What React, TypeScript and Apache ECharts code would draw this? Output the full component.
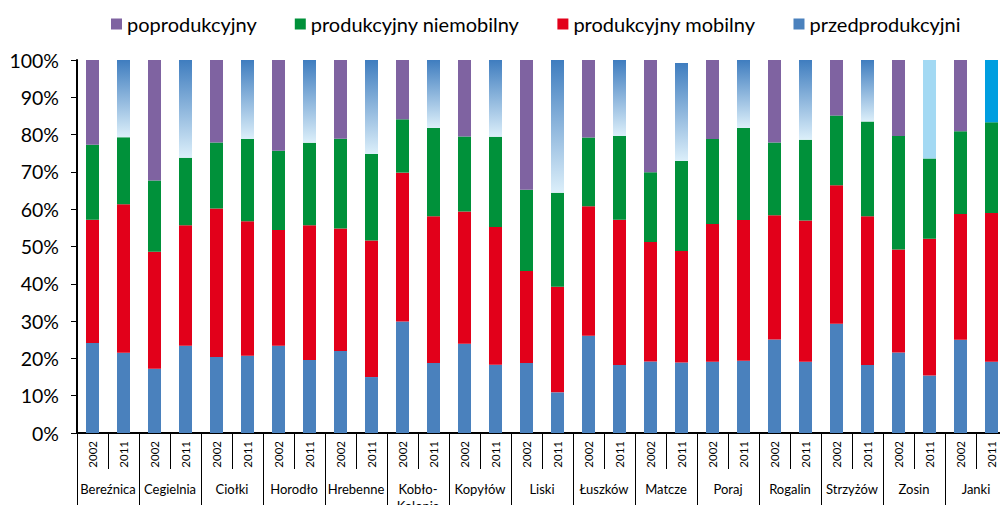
import React, { useEffect, useRef } from "react";
import * as echarts from "echarts";

const villages = ["Bereźnica", "Cegielnia", "Ciołki", "Horodło", "Hrebenne", "Kobło-\nKolonia", "Kopyłów", "Liski", "Łuszków", "Matcze", "Poraj", "Rogalin", "Strzyżów", "Zosin", "Janki"];
const years = ["2002", "2011"];

// Cumulative tops (percent), per bar: blue top, red top, green top, total
const blueTop = [24.1, 21.5, 17.2, 23.4, 20.4, 20.7, 23.4, 19.6, 22.0, 15.0, 29.9, 18.75, 23.9, 18.3, 18.8, 10.9, 26.1, 18.2, 19.2, 18.9, 19.1, 19.4, 25.1, 19.1, 29.3, 18.2, 21.6, 15.4, 25.0, 19.1];
const redTop = [57.2, 61.3, 48.6, 55.7, 60.2, 56.8, 54.4, 55.7, 54.8, 51.6, 69.8, 58.1, 59.4, 55.2, 43.4, 39.2, 60.8, 57.2, 51.2, 48.8, 56.0, 57.1, 58.4, 57.0, 66.4, 58.1, 49.2, 52.1, 58.7, 59.0];
const greenTop = [77.3, 79.3, 67.7, 73.8, 77.9, 78.8, 75.7, 77.8, 78.9, 74.8, 84.1, 81.8, 79.5, 79.4, 65.2, 64.4, 79.2, 79.6, 69.9, 72.9, 78.8, 81.8, 77.9, 78.6, 85.1, 83.5, 79.6, 73.6, 80.9, 83.3];
const totalTop = [100, 100, 100, 100, 100, 100, 100, 100, 100, 100, 100, 100, 100, 100, 100, 100, 100, 100, 100, 99.2, 100, 100, 100, 100, 100, 100, 100, 100, 100, 100];

const przed = blueTop.map((v) => +v.toFixed(2));
const mobilny = redTop.map((v, i) => +(v - blueTop[i]).toFixed(2));
const niemobilny = greenTop.map((v, i) => +(v - redTop[i]).toFixed(2));
const poprod = totalTop.map((v, i) => +(v - greenTop[i]).toFixed(2));

const seriesNames = ["przedprodukcyjni", "produkcyjny mobilny", "produkcyjny niemobilny", "poprodukcyjny"];

const BLUE = "#4A81BD";
const RED = "#E2001A";
const GREEN = "#00913A";
const PURPLE = "#7F63A1";

export default function App() {
  const ref = useRef<HTMLDivElement>(null);
  useEffect(() => {
    if (!ref.current) return;
    const chart = echarts.init(ref.current, undefined, { renderer: "svg" });
    const cats: string[] = [];
    villages.forEach(() => years.forEach((y) => cats.push(y)));
    const gradient = new echarts.graphic.LinearGradient(0, 0, 0, 1, [
      { offset: 0, color: "#3F7DBF" },
      { offset: 1, color: "#DCEFFA" },
    ]);
    const topData = poprod.map((v, i) => {
      if (i % 2 === 0) return v;
      let color: any = gradient;
      if (i === 27) color = "#A3D9F3";
      if (i === 29) color = "#009EE0";
      return { value: v, itemStyle: { color } };
    });
    const font = "Lato, 'Open Sans', sans-serif";
    const mk = (name: string, data: any[], color: string) => ({
      name,
      type: "bar",
      stack: "s",
      barWidth: 13,
      data,
      itemStyle: { color },
      xAxisIndex: 0,
    });
    chart.setOption({
      animation: false,
      textStyle: { fontFamily: font },
      legend: {
        data: ["poprodukcyjny", "produkcyjny niemobilny", "produkcyjny mobilny", "przedprodukcyjni"],
        top: 9,
        left: 106,
        icon: "rect",
        itemWidth: 11,
        itemHeight: 11,
        itemGap: 38,
        textStyle: { fontSize: 20, color: "#000", fontFamily: font },
      },
      grid: { left: 77, top: 60, width: 930, height: 373, outerBoundsMode: "none", containLabel: false },
      xAxis: [
        {
          type: "category",
          data: cats,
          axisLine: { lineStyle: { color: "#000", width: 2 } },
          axisTick: { show: true, length: 36, lineStyle: { color: "#000", width: 1 } },
          axisLabel: { rotate: 90, fontSize: 11.5, color: "#000", margin: 8, interval: 0, fontFamily: font },
        },
        {
          type: "category",
          data: villages,
          position: "bottom",
          axisLine: { show: false },
          axisTick: { show: true, length: 72, lineStyle: { color: "#000", width: 1 } },
          axisLabel: { fontSize: 13, color: "#000", margin: 47, interval: 0, lineHeight: 17, fontFamily: font },
        },
      ],
      yAxis: {
        type: "value",
        min: 0,
        max: 100,
        interval: 10,
        axisLine: { show: true, lineStyle: { color: "#000", width: 2 } },
        axisTick: { show: true, length: 6, lineStyle: { color: "#000" } },
        splitLine: { show: false },
        axisLabel: { formatter: "{value}%", fontSize: 19.5, color: "#000", margin: 18, fontFamily: font },
      },
      series: [
        mk(seriesNames[0], przed, BLUE),
        mk(seriesNames[1], mobilny, RED),
        mk(seriesNames[2], niemobilny, GREEN),
        mk(seriesNames[3], topData, PURPLE),
      ],
    });
    return () => chart.dispose();
  }, []);
  return <div ref={ref} style={{ position: "fixed", left: 0, top: 0, width: 1000, height: 505, background: "#fff" }} />;
}
